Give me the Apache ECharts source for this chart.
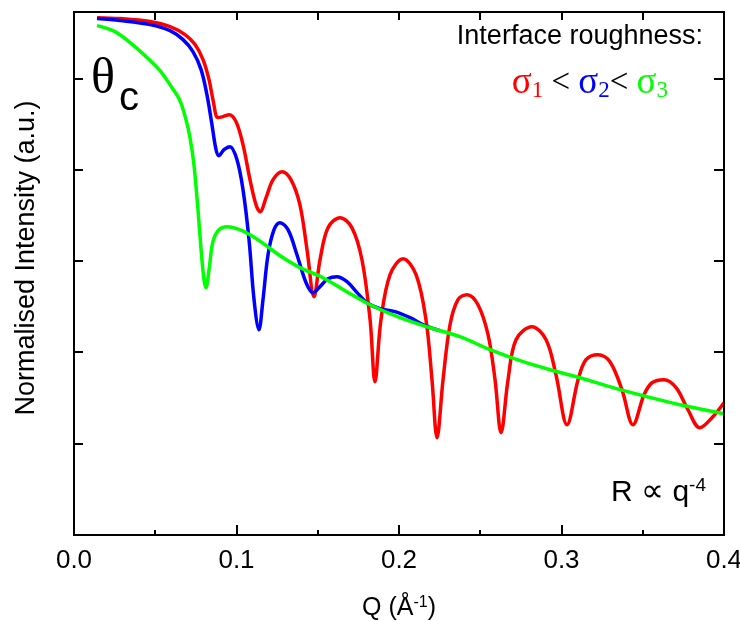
<!DOCTYPE html>
<html>
<head>
<meta charset="utf-8">
<script src="https://cdn.jsdelivr.net/npm/echarts@6/dist/echarts.min.js"></script>
<style>
  html, body { margin: 0; padding: 0; background: #fff; overflow: hidden; }
  #chart { width: 740px; height: 621px; }
</style>
</head>
<body>
<div id="chart"></div>
<script>
// Q in 1/Angstrom, intensity as log10 (arbitrary units, one tick = one decade)
const qRed = [0.0142, 0.0283, 0.0468, 0.0591, 0.0683, 0.0745, 0.0794, 0.0831, 0.0855, 0.0886,
  0.0917, 0.0954, 0.0997, 0.104, 0.1083, 0.112, 0.1145, 0.1182, 0.1225, 0.128,
  0.1335, 0.139, 0.1434, 0.1477, 0.1514, 0.1563, 0.1637, 0.171, 0.1772, 0.1822,
  0.1852, 0.1889, 0.1945, 0.2025, 0.2105, 0.2166, 0.2203, 0.2234, 0.2271, 0.2314,
  0.2363, 0.2418, 0.2486, 0.2548, 0.2591, 0.2628, 0.2671, 0.272, 0.2818, 0.2905,
  0.2966, 0.3034, 0.3102, 0.3151, 0.3225, 0.3298, 0.3372, 0.344, 0.3508, 0.3557,
  0.3631, 0.3705, 0.3778, 0.3852, 0.3926, 0.4];
const logRed = [0.668, 0.658, 0.625, 0.570, 0.482, 0.373, 0.208, -0.011, -0.230, -0.427,
  -0.416, -0.395, -0.471, -0.723, -1.107, -1.381, -1.458, -1.304, -1.107, -1.019,
  -1.107, -1.381, -1.874, -2.389, -1.984, -1.633, -1.523, -1.633, -1.984, -2.641,
  -3.321, -2.641, -2.148, -1.973, -2.148, -2.641, -3.299, -3.934, -3.299, -2.696,
  -2.422, -2.367, -2.477, -2.805, -3.299, -3.879, -3.299, -2.860, -2.718, -2.860,
  -3.244, -3.792, -3.299, -3.079, -3.025, -3.101, -3.408, -3.792, -3.463, -3.332,
  -3.299, -3.386, -3.627, -3.825, -3.715, -3.551];

const qBlue = [0.0142, 0.0283, 0.0468, 0.0591, 0.0671, 0.0732, 0.0782, 0.0818, 0.0849, 0.0874,
  0.0892, 0.0923, 0.096, 0.1003, 0.104, 0.1077, 0.1108, 0.1138, 0.1163, 0.1194,
  0.1231, 0.1268, 0.1317, 0.1372, 0.1428, 0.1471, 0.1514, 0.1563, 0.1618, 0.168,
  0.1742, 0.1803, 0.1883, 0.1975, 0.2068, 0.216, 0.2252];
const logBlue = [0.658, 0.636, 0.592, 0.526, 0.427, 0.296, 0.099, -0.175, -0.504, -0.778,
  -0.844, -0.778, -0.745, -0.888, -1.216, -1.764, -2.422, -2.751, -2.422, -1.929,
  -1.655, -1.578, -1.655, -1.929, -2.236, -2.345, -2.279, -2.192, -2.170, -2.225,
  -2.345, -2.455, -2.521, -2.553, -2.619, -2.707, -2.762];

const qGreen = [0.0142, 0.0252, 0.0345, 0.0437, 0.0529, 0.0603, 0.0652, 0.0689, 0.0714, 0.0738,
  0.0763, 0.0782, 0.08, 0.0812, 0.0831, 0.0855, 0.0892, 0.0942, 0.1003, 0.1083,
  0.1175, 0.1268, 0.1391, 0.1532, 0.1668, 0.1822, 0.2006, 0.2191, 0.2375, 0.256,
  0.2745, 0.2929, 0.3114, 0.3317, 0.3526, 0.3729, 0.4];
const logGreen = [0.581, 0.515, 0.395, 0.252, 0.088, -0.099, -0.241, -0.449, -0.647, -0.942,
  -1.436, -1.874, -2.203, -2.290, -2.093, -1.786, -1.655, -1.622, -1.644, -1.710,
  -1.819, -1.940, -2.071, -2.181, -2.323, -2.477, -2.619, -2.729, -2.827, -2.970,
  -3.090, -3.189, -3.277, -3.386, -3.485, -3.573, -3.671];

// tick positions on the frame
const xTickValues = [0, 0.05, 0.1, 0.15, 0.2, 0.25, 0.3, 0.35, 0.4];
const yTickValues = [-4, -3, -2, -1, 0];
const xRange = [0, 0.4];
const yRange = [-5, 0.73];

function zip(xs, ys) {
  return xs.map(function (x, i) { return [x, ys[i]]; });
}

const font = 'Liberation Sans, Arial, sans-serif';
const serif = 'Liberation Serif, Times New Roman, serif';
const RED = '#ff0000', BLUE = '#0000ff', GREEN = '#00ff00';

const chart = echarts.init(document.getElementById('chart'));

const textGraphics = [
  {
    type: 'text', x: 27, y: 258, rotation: Math.PI / 2,
    style: {
      text: 'Normalised Intensity (a.u.)', fill: '#000', font: '27px ' + font,
      align: 'center', verticalAlign: 'middle'
    }
  },
  {
    type: 'text', x: 91, y: 80,
    style: { text: 'θ', fill: '#000', font: '50px ' + serif, align: 'left', verticalAlign: 'middle' }
  },
  {
    type: 'text', x: 119, y: 99,
    style: { text: 'c', fill: '#000', font: '40px ' + font, align: 'left', verticalAlign: 'middle' }
  },
  {
    type: 'text', x: 703, y: 37,
    style: {
      text: 'Interface roughness:', fill: '#000', font: '27px ' + font,
      align: 'right', verticalAlign: 'middle'
    }
  },
  {
    type: 'text', x: 668, y: 83,
    style: {
      text: '{r|σ}{rs|1}{k| < }{b|σ}{bs|2}{k|< }{g|σ}{gs|3}',
      align: 'right', verticalAlign: 'middle',
      rich: {
        r: { fontSize: 37, fontFamily: serif, fill: RED },
        b: { fontSize: 37, fontFamily: serif, fill: BLUE },
        g: { fontSize: 37, fontFamily: serif, fill: GREEN },
        k: { fontSize: 33, fontFamily: serif, fill: '#000' },
        rs: { fontSize: 23, fontFamily: serif, fill: RED, verticalAlign: 'bottom', padding: [16, 0, 0, 0] },
        bs: { fontSize: 23, fontFamily: serif, fill: BLUE, verticalAlign: 'bottom', padding: [16, 0, 0, 0] },
        gs: { fontSize: 23, fontFamily: serif, fill: GREEN, verticalAlign: 'bottom', padding: [16, 0, 0, 0] }
      }
    }
  },
  {
    type: 'text', x: 706, y: 493,
    style: {
      text: '{a|R }{p|∝}{a| q}{s|-4}', align: 'right', verticalAlign: 'middle',
      rich: {
        a: { fontSize: 30, fontFamily: font, fill: '#000' },
        p: { fontSize: 32, fontFamily: serif, fill: '#000' },
        s: { fontSize: 19, fontFamily: font, fill: '#000', verticalAlign: 'top', padding: [0, 0, 14, 0] }
      }
    }
  }
];

chart.setOption({
  animation: false,
  grid: { left: 74, right: 16, top: 12, bottom: 86, outerBoundsMode: 'none' },
  xAxis: {
    type: 'value', min: xRange[0], max: xRange[1], interval: 0.1,
    axisLine: { show: true, onZero: false, lineStyle: { color: '#000', width: 2 } },
    axisTick: { show: false },
    splitLine: { show: false },
    axisLabel: {
      margin: 13, color: '#000', fontSize: 26, fontFamily: font,
      formatter: function (v) { return v.toFixed(1); }
    },
    name: 'Q (Å{sup|-1})',
    nameLocation: 'middle',
    nameGap: 60,
    nameTextStyle: {
      color: '#000', fontSize: 25, fontFamily: font,
      rich: { sup: { fontSize: 16, fontFamily: font, color: '#000', verticalAlign: 'top', padding: [0, 0, 10, 0] } }
    }
  },
  yAxis: {
    type: 'value', min: yRange[0], max: yRange[1], interval: 1,
    axisLine: { show: true, onZero: false, lineStyle: { color: '#000', width: 2 } },
    axisTick: { show: false },
    splitLine: { show: false },
    axisLabel: { show: false }
  },
  series: [
    {
      name: 'sigma1', type: 'line', data: zip(qRed, logRed), showSymbol: false,
      smooth: 0.35,
      lineStyle: { color: RED, width: 3.5 }
    },
    {
      name: 'sigma2', type: 'line', data: zip(qBlue, logBlue), showSymbol: false,
      smooth: 0.35,
      lineStyle: { color: BLUE, width: 3.5 }
    },
    {
      name: 'sigma3', type: 'line', data: zip(qGreen, logGreen), showSymbol: false,
      smooth: 0.35,
      lineStyle: { color: GREEN, width: 3.5 }
    }
  ],
  graphic: textGraphics
});

// frame box and inward ticks, placed through the axes' own scales
const toPxX = function (v) { return Math.round(chart.convertToPixel({ xAxisIndex: 0 }, v)); };
const toPxY = function (v) { return Math.round(chart.convertToPixel({ yAxisIndex: 0 }, v)); };
const frameL = toPxX(xRange[0]), frameR = toPxX(xRange[1]);
const frameT = toPxY(yRange[1]), frameB = toPxY(yRange[0]);
const tickStyle = { stroke: '#000', lineWidth: 2 };
const frameGraphics = [{
  type: 'rect', z: 50,
  shape: { x: frameL, y: frameT, width: frameR - frameL, height: frameB - frameT },
  style: { fill: 'none', stroke: '#000', lineWidth: 2 }
}];
xTickValues.forEach(function (v) {
  const x = toPxX(v);
  const major = Math.abs(v * 10 - Math.round(v * 10)) < 1e-6;
  const lenB = major ? 10 : 5;
  frameGraphics.push({ type: 'line', z: 50, shape: { x1: x, y1: frameB, x2: x, y2: frameB - lenB }, style: tickStyle });
  frameGraphics.push({ type: 'line', z: 50, shape: { x1: x, y1: frameT, x2: x, y2: frameT + 8 }, style: tickStyle });
});
yTickValues.forEach(function (v) {
  const y = toPxY(v);
  frameGraphics.push({ type: 'line', z: 50, shape: { x1: frameL, y1: y, x2: frameL + 9, y2: y }, style: tickStyle });
  frameGraphics.push({ type: 'line', z: 50, shape: { x1: frameR, y1: y, x2: frameR - 10, y2: y }, style: tickStyle });
});

chart.setOption({ graphic: textGraphics.concat(frameGraphics) });
</script>
</body>
</html>
